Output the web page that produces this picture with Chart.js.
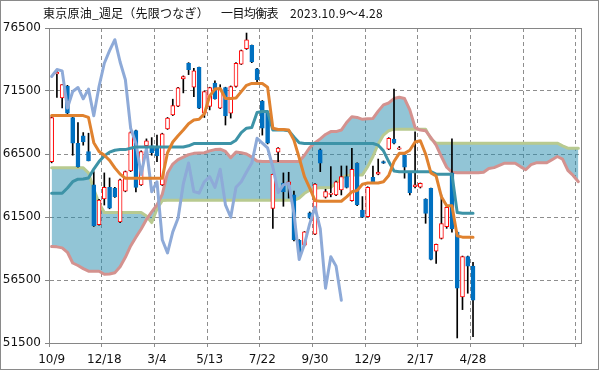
<!DOCTYPE html>
<html><head><meta charset="utf-8">
<script src="https://cdn.jsdelivr.net/npm/chart.js@4.4.1/dist/chart.umd.min.js"></script>
<style>
html,body{margin:0;padding:0;background:#fff;}
#wrap{position:relative;width:599px;height:370px;}
.t{position:absolute;top:7px;font-family:"Noto Sans CJK JP",sans-serif;font-size:12px;line-height:12px;color:#111;white-space:pre;}
</style></head><body>
<div id="wrap"><canvas id="c" width="599" height="370"></canvas>
<div class="t" style="left:43px" data-w="166">東京原油_週足（先限つなぎ）</div>
<div class="t" style="left:221px" data-w="57">一目均衡表</div>
<div class="t" style="left:290px" data-w="93">2023.10.9〜4.28</div>
</div>
<script>
// tick labels (every 10th weekly category)
const tickLabels = ['10/9','12/18','3/4','5/13','7/22','9/30','12/9','2/17','4/28'];
const totalCats = 101;

// weekly candles
const open  = [65900,72850,70950,71900,69400,67350,67950,66700,64050,60900,62930,63850,63800,61100,63550,65150,68350,64050,67170,67150,66950,64050,68500,69600,70300,72450,73700,71800,73370,69740,70270,72130,70140,71780,69740,71860,73630,74855,75120,73260,70700,69740,62180,66640,64200,64050,63250,59650,59260,61840,60140,66840,63070,63300,63250,63650,64700,62800,65780,62050,61520,64650,64900,65900,66880,67680,66880,66420,64990,63900,63860,62930,63780,58790,59800,60730,65000,60300,55150,58350,57600];
const high  = [69500,73050,72000,71950,69450,69000,68200,68150,65100,62900,65000,64600,63850,64500,65150,68300,68400,66750,67700,67800,68000,68150,69400,70850,71800,72700,73750,73300,73400,71500,71800,72300,72000,71800,71900,73750,74750,76100,75150,73300,70750,69800,64900,67000,65000,65050,63550,59700,60350,61900,64150,66900,63700,65500,64350,65550,65550,66950,65800,63120,63900,65550,66100,65950,67800,71650,67100,66450,65000,68250,64200,62950,63800,59350,63250,62400,67700,60350,58400,58400,57900];
const low   = [65800,71000,70150,69700,66400,65450,67200,65950,60750,60850,62450,62150,63050,61050,63500,65100,63500,64000,67100,66400,65900,64000,68450,69550,70250,71350,72800,71050,70100,69400,70000,70850,70100,68800,69350,71800,73600,74800,73750,72000,68000,67300,60600,65900,62350,63000,59600,58600,59200,61350,60100,65100,63000,63100,63200,63250,63800,62750,62400,61450,61500,64250,64850,65750,66850,67300,66850,64580,63250,63800,63800,61000,58100,57810,59750,60600,60300,51900,54150,55450,52000];
const close = [69400,73000,72000,69750,67350,65500,67450,65950,60800,62850,63850,62200,63100,64450,65100,68200,63850,66700,67550,66600,66350,68100,69350,70350,71750,72650,73200,73100,70140,71460,71780,70880,71650,69530,71860,73700,74700,75570,73800,72390,68550,67360,64880,66960,63500,64300,59700,58650,60320,61400,64120,65780,63510,63400,64300,64700,63850,65290,62460,61480,63860,64300,65070,65780,67750,67360,66980,65450,63440,64050,64170,61790,58130,59340,60970,62270,60550,55850,58350,57600,54900];

// conversion line (tenkan)
const tenkan = [69550,69550,69550,69550,69550,69550,69550,69400,67400,66700,66400,66000,65400,64900,64580,64580,64580,64580,64580,64580,64580,64580,66600,67450,67950,68400,68900,69200,69250,69700,71100,71650,71700,70900,70900,70950,71450,71950,72100,72100,72100,71800,68550,68450,68450,68400,67600,66200,64700,63800,62800,62750,62750,62750,62750,62750,63100,63500,63600,64100,64200,64200,64200,64300,64800,65900,66550,66550,66800,67450,67550,66500,65000,64750,63100,62400,62400,60000,59900,59900,59900];
// base line (kijun)
const kijun = [63380,63380,63380,63800,64300,64500,64520,64600,65300,65900,66350,66650,66800,66850,66850,66950,67050,67050,67050,67050,67050,67050,67050,67050,67050,67050,67150,67330,67330,67330,67330,67330,67330,67330,67330,67600,68200,68550,68600,69800,69870,69870,68400,68400,68400,68350,67850,67400,67330,67330,67330,67330,67330,67330,67330,67330,67330,67330,67330,67330,67330,67330,67200,66750,65900,65150,65100,65100,65100,65100,65100,65100,65100,64900,64900,64900,64900,61850,61800,61800,61800];
// leading span A
const senkouA = [65400,65400,65400,65400,65400,65400,65400,65000,63700,62600,61850,61850,61850,61850,61850,61850,61850,61850,61580,61060,62130,62800,62820,62820,62820,62820,62820,62820,62820,62820,62820,62820,62820,62820,62820,62820,62820,62820,62820,62820,62820,62820,62820,62820,62820,62820,62820,63000,63380,63620,63780,63830,63830,63850,64200,64600,64780,64840,64840,64840,65500,66300,67300,68000,68350,68470,68470,68470,68470,68470,68470,68470,67700,67360,67360,67360,67360,67360,67360,67360,67360,67360,67360,67360,67360,67360,67360,67360,67360,67360,67360,67360,67360,67360,67360,67360,67360,67150,66960,66960,66960];
// leading span B
const senkouB = [59150,59130,59050,58700,57850,57650,57400,57200,57200,57200,56950,56980,57080,57550,58300,59200,59900,60550,61300,61900,62450,63300,65000,65700,66050,66250,66450,66550,66580,66600,66750,66850,66880,66700,66200,66650,66600,66500,66250,65950,65900,65900,65900,65900,65900,65900,65900,65900,66400,67000,67400,67700,68050,68280,68280,68400,69000,69450,69400,69250,69300,69320,69900,70400,70550,70900,71000,70900,70000,68600,68400,68350,67800,67200,66300,65450,65050,65020,65020,65020,65020,65020,65050,65350,65420,65600,65770,65770,65770,65500,65250,65650,65800,65800,65800,66050,66300,66100,65200,64800,64300];
// lagging span (chikou)
const chikou = [72650,73200,73100,70140,71460,71780,70880,71650,69530,71860,73700,74700,75570,73800,72390,68550,67360,64880,66960,63500,64300,59700,58650,60320,61400,64120,65780,63510,63400,64300,64700,63850,65290,62460,61480,63860,64300,65070,65780,67750,67360,66980,65450,63440,64050,64170,61790,58130,59340,60970,62270,60550,55850,58350,57600,54900];

const cats = Array.from({length: totalCats}, (_, i) => i);
const bodies = open.map((o, i) => [Math.min(o, close[i]), Math.max(o, close[i])]);
const wicks = low.map((l, i) => [l, high[i]]);
const isUp = open.map((o, i) => close[i] >= o);

const gridColor = '#8e8e8e';
const xGrid = c => (c.index % 10 === 0 && c.index <= 100) ? gridColor : 'rgba(0,0,0,0)';
const cloud = 'rgba(38,139,174,0.5)';

const framePlugin = {
  id: 'frame',
  afterDraw(chart) {
    const {ctx, chartArea: a} = chart;
    ctx.save();
    ctx.lineWidth = 1;
    ctx.strokeStyle = '#868686';
    ctx.strokeRect(Math.round(a.left) + 0.5, Math.round(a.top) + 0.5, Math.round(a.right - a.left), Math.round(a.bottom - a.top));
    ctx.strokeStyle = '#8a8a8a';
    ctx.strokeRect(0.5, 0.5, chart.width - 1, chart.height - 1);
    ctx.restore();
  }
};

const lineBase = {type: 'line', pointRadius: 0, borderWidth: 3, tension: 0, fill: false, borderJoinStyle: 'round', borderCapStyle: 'round'};

new Chart(document.getElementById('c'), {
  data: {
    labels: cats,
    datasets: [
      Object.assign({}, lineBase, {label: 'senkouA', data: senkouA, borderColor: '#b8ca90', order: 6,
        fill: {target: 1, above: cloud, below: cloud}}),
      Object.assign({}, lineBase, {label: 'senkouB', data: senkouB, borderColor: '#d4928f', order: 5}),
      {type: 'bar', label: 'wick', data: wicks, backgroundColor: '#000', borderWidth: 0, barThickness: 1, grouped: false, order: 4},
      {type: 'bar', label: 'body', data: bodies, grouped: false, barThickness: 4, borderWidth: 1, borderSkipped: false,
        backgroundColor: isUp.map(u => u ? '#ffffff' : '#0070c0'),
        borderColor: isUp.map(u => u ? '#ff0000' : '#0070c0'), order: 3},
      Object.assign({}, lineBase, {label: 'chikou', data: chikou, borderColor: '#8eaad8', order: 2}),
      Object.assign({}, lineBase, {label: 'kijun', data: kijun, borderColor: '#3d93a7', order: 1}),
      Object.assign({}, lineBase, {label: 'tenkan', data: tenkan, borderColor: '#e0822f', order: 0})
    ]
  },
  options: {
    responsive: false, animation: false, devicePixelRatio: 1,
    layout: {padding: {left: 0, right: 18, top: 28, bottom: 0}},
    plugins: {legend: {display: false}, tooltip: {enabled: false}, title: {display: false}},
    scales: {
      x: {
        type: 'category', offset: true,
        grid: {offset: true, color: xGrid, tickColor: xGrid, tickLength: 4, lineWidth: 1},
        border: {display: true, color: '#868686', dash: [4, 3]},
        ticks: {autoSkip: false, maxRotation: 0, minRotation: 0, padding: 6, color: '#111',
          font: {family: 'DejaVu Sans', size: 12},
          callback: (v, i) => (i % 10 === 0 && i / 10 < tickLabels.length) ? tickLabels[i / 10] : ''},
        afterFit: s => { s.height = 27; }
      },
      y: {
        min: 51500, max: 76500,
        grid: {color: gridColor, tickColor: '#868686', tickLength: 4, lineWidth: 1},
        border: {display: true, color: '#868686', dash: [4, 3]},
        ticks: {stepSize: 5000, padding: 4, color: '#111', font: {family: 'DejaVu Sans', size: 12},
          callback: v => String(v)},
        afterFit: s => { s.width = 49; }
      }
    }
  },
  plugins: [framePlugin]
});

function fitTitle() {
  document.querySelectorAll('.t').forEach(el => {
    const target = +el.dataset.w;
    const n = Array.from(el.textContent).length;
    el.style.letterSpacing = '0px';
    const w = el.getBoundingClientRect().width;
    el.style.letterSpacing = ((target - w) / n).toFixed(3) + 'px';
  });
}
fitTitle();
if (document.fonts && document.fonts.ready) document.fonts.ready.then(fitTitle);
</script>
</body></html>
